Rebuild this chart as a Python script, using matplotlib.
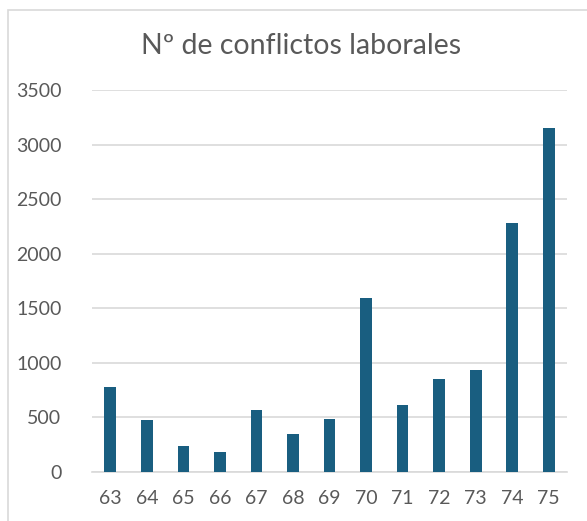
import matplotlib.pyplot as plt
from matplotlib.patches import Rectangle

# Data
years = ["63", "64", "65", "66", "67", "68", "69", "70", "71", "72", "73", "74", "75"]
conflicts = [775, 475, 235, 180, 565, 345, 485, 1590, 612, 848, 930, 2285, 3150]
y_ticks = [0, 500, 1000, 1500, 2000, 2500, 3000, 3500]

plt.rcParams['font.family'] = ['Lato', 'DejaVu Sans']

fig = plt.figure(figsize=(5.87, 5.21), dpi=100)
ax = fig.add_axes([92 / 587, 1 - 472 / 521, (567 - 92) / 587, (472 - 90) / 521])

x = range(len(years))
ax.bar(x, conflicts, width=0.32, color='#195E80', zorder=3)

ax.set_xlim(-0.5, len(years) - 0.5)
ax.set_ylim(0, 3500)
ax.set_yticks(y_ticks)
ax.set_xticks(list(x))
ax.set_xticklabels(years)
ax.grid(axis='y', color='#D9D9D9', linewidth=1.2, zorder=0)
for s in ['top', 'right', 'left']:
    ax.spines[s].set_visible(False)
ax.spines['bottom'].set_color('#D9D9D9')
ax.spines['bottom'].set_linewidth(1.2)
ax.tick_params(length=0, labelsize=14, colors='#595959')
ax.tick_params(axis='x', pad=13)
ax.tick_params(axis='y', pad=22)

fig.text(0.513, 1 - 46 / 521, "Nº de conflictos laborales", ha='center', va='center',
         fontsize=20.5, color='#595959')

# chart area border
fig.patches.append(Rectangle((7.5 / 587, -0.1), 1.0, 1 - 10 / 521 + 0.1,
                             transform=fig.transFigure, fill=False,
                             edgecolor='#D9D9D9', linewidth=1.2))

fig.savefig("out.png", dpi=100)
